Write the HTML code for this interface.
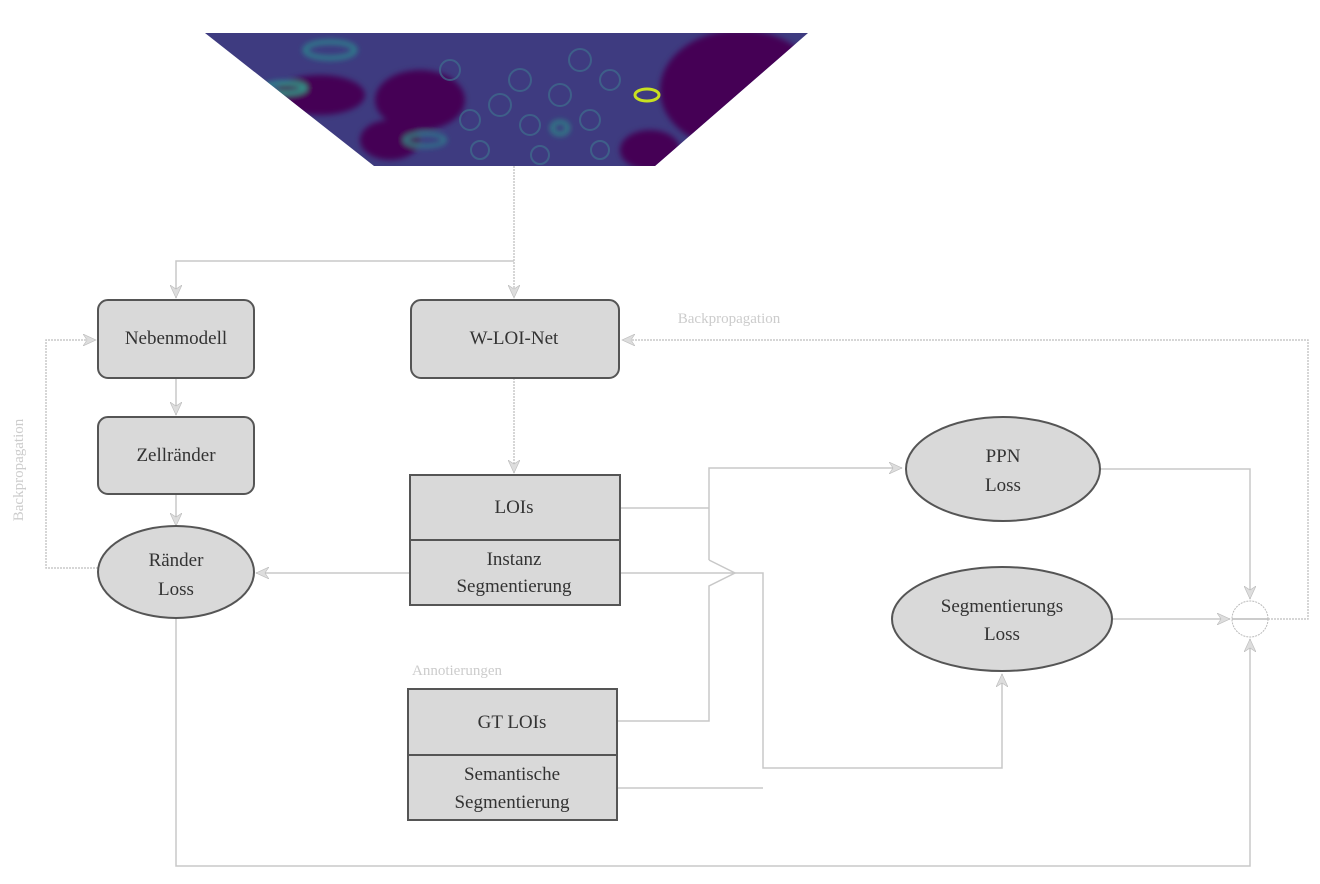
<!DOCTYPE html>
<html><head><meta charset="utf-8"><style>
html,body{margin:0;padding:0;background:#fff;}
svg{display:block;font-family:"Liberation Serif","DejaVu Serif",serif;}
</style></head><body>
<svg width="1320" height="884" viewBox="0 0 1320 884" xmlns="http://www.w3.org/2000/svg">
<defs>
<clipPath id="trap"><polygon points="205,33 808,33 655,166 374,166"/></clipPath>
<filter id="bl"><feGaussianBlur stdDeviation="3"/></filter>
<marker id="ar" markerWidth="14" markerHeight="12" refX="13" refY="6" orient="auto" markerUnits="userSpaceOnUse">
<path d="M0,0 L13,6 L0,12 L4,6 Z" fill="#ddd" stroke="#bbb" stroke-width="0.6"/></marker>
</defs>
<!-- image -->
<g clip-path="url(#trap)">
<rect x="200" y="30" width="620" height="140" fill="#3e3b80"/>
<g filter="url(#bl)">
<ellipse cx="320" cy="95" rx="45" ry="20" fill="#440154"/>
<ellipse cx="420" cy="100" rx="45" ry="30" fill="#440154"/>
<ellipse cx="390" cy="140" rx="30" ry="20" fill="#440154"/>
<ellipse cx="740" cy="90" rx="80" ry="60" fill="#440154"/>
<ellipse cx="650" cy="150" rx="30" ry="20" fill="#440154"/>
<ellipse cx="285" cy="88" rx="20" ry="5" fill="none" stroke="#2a9d8f" stroke-width="4"/>
<ellipse cx="330" cy="50" rx="25" ry="8" fill="none" stroke="#2a8d8f" stroke-width="4"/>
<ellipse cx="425" cy="140" rx="20" ry="6" fill="none" stroke="#2a8d8f" stroke-width="3"/>
<ellipse cx="560" cy="128" rx="8" ry="6" fill="none" stroke="#2aa08a" stroke-width="3"/>
</g>
<ellipse cx="647" cy="95" rx="12" ry="6" fill="none" stroke="#c8e020" stroke-width="3"/>
<g fill="none" stroke="#3f6f8e" stroke-width="2" opacity="0.7">
<circle cx="470" cy="120" r="10"/><circle cx="500" cy="105" r="11"/><circle cx="530" cy="125" r="10"/>
<circle cx="560" cy="95" r="11"/><circle cx="590" cy="120" r="10"/><circle cx="520" cy="80" r="11"/>
<circle cx="480" cy="150" r="9"/><circle cx="540" cy="155" r="9"/><circle cx="600" cy="150" r="9"/>
<circle cx="610" cy="80" r="10"/><circle cx="580" cy="60" r="11"/><circle cx="450" cy="70" r="10"/>
</g>
</g>
<!-- connectors -->
<g fill="none" stroke="#c8c8c8" stroke-width="1.5">
<path d="M514,166 V298" stroke-dasharray="2,1" marker-end="url(#ar)"/>
<path d="M514,261 H176 V298" marker-end="url(#ar)"/>
<path d="M176,378 V415" marker-end="url(#ar)"/>
<path d="M176,494 V526" marker-end="url(#ar)"/>
<path d="M514,378 V473" stroke-dasharray="2,1" marker-end="url(#ar)"/>
<path d="M98,568 H46 V340 H96" stroke-dasharray="2,1" marker-end="url(#ar)"/>
<path d="M410,573 H256" marker-end="url(#ar)"/>
<path d="M1268,619 H1308 V340 H622" stroke-dasharray="2,1" marker-end="url(#ar)"/>
<path d="M620,508 H709"/>
<path d="M709,560 V468 H902" marker-end="url(#ar)"/>
<path d="M620,573 H737"/>
<path d="M709,560 L735,573 L709,586 V721 H617"/>
<path d="M737,573 H763 V768 H1002 V674" marker-end="url(#ar)"/>
<path d="M617,788 H763"/>
<path d="M1100,469 H1250 V599" marker-end="url(#ar)"/>
<path d="M1113,619 H1230" marker-end="url(#ar)"/>
<path d="M176,617 V866 H1250 V639" marker-end="url(#ar)"/>
</g>
<!-- nodes -->
<g fill="#d9d9d9" stroke="#555" stroke-width="2">
<rect x="98" y="300" width="156" height="78" rx="10"/>
<rect x="411" y="300" width="208" height="78" rx="10"/>
<rect x="98" y="417" width="156" height="77" rx="10"/>
<ellipse cx="176" cy="572" rx="78" ry="46"/>
<rect x="410" y="475" width="210" height="65"/>
<rect x="410" y="540" width="210" height="65"/>
<rect x="408" y="689" width="209" height="66"/>
<rect x="408" y="755" width="209" height="65"/>
<ellipse cx="1003" cy="469" rx="97" ry="52"/>
<ellipse cx="1002" cy="619" rx="110" ry="52"/>
</g>
<circle cx="1250" cy="619" r="18" fill="none" stroke="#bbb" stroke-dasharray="2,1"/>
<path d="M1232,619 H1268" stroke="#bbb" stroke-width="1.5"/>
<g fill="#333" font-size="19" text-anchor="middle">
<text x="176" y="344">Nebenmodell</text>
<text x="514" y="344">W-LOI-Net</text>
<text x="176" y="461">Zellränder</text>
<text x="176" y="566">Ränder</text>
<text x="176" y="595">Loss</text>
<text x="514" y="513">LOIs</text>
<text x="514" y="565">Instanz</text>
<text x="514" y="592">Segmentierung</text>
<text x="512" y="728">GT LOIs</text>
<text x="512" y="780">Semantische</text>
<text x="512" y="808">Segmentierung</text>
<text x="1003" y="462">PPN</text>
<text x="1003" y="491">Loss</text>
<text x="1002" y="612">Segmentierungs</text>
<text x="1002" y="640">Loss</text>
</g>
<g fill="#ccc" font-size="15" text-anchor="middle">
<text x="457" y="675">Annotierungen</text>
<text x="729" y="323">Backpropagation</text>
<text transform="translate(23,470) rotate(-90)">Backpropagation</text>
</g>
</svg>
</body></html>
